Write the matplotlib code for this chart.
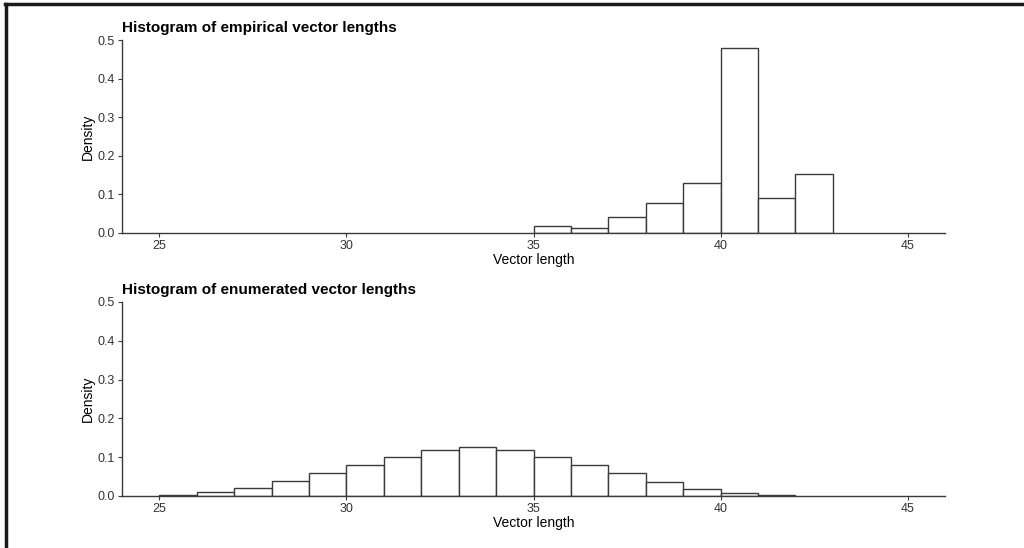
import matplotlib.pyplot as plt
from matplotlib.lines import Line2D

plt.rcParams['font.family'] = ['Liberation Sans', 'DejaVu Sans']

# empirical histogram (bins of width 1)
emp_left = [35, 36, 37, 38, 39, 40, 41, 42]
emp_density = [0.018, 0.013, 0.040, 0.078, 0.130, 0.480, 0.091, 0.152]

# enumerated histogram
enum_left = [25, 26, 27, 28, 29, 30, 31, 32, 33, 34, 35, 36, 37, 38, 39, 40, 41]
enum_density = [0.003, 0.009, 0.021, 0.038, 0.059, 0.079, 0.100, 0.119, 0.126,
                0.119, 0.100, 0.080, 0.058, 0.036, 0.018, 0.007, 0.002]

x_ticks = [25, 30, 35, 40, 45]
y_ticks = [0.0, 0.1, 0.2, 0.3, 0.4, 0.5]

fig = plt.figure(figsize=(10.24, 5.48), dpi=100)
ax1 = fig.add_axes([0.119, 0.575, 0.804, 0.352])
ax2 = fig.add_axes([0.119, 0.095, 0.804, 0.354])

line_col = '#3a3a3a'
tick_col = '#333333'

def style(ax, left, dens, title):
    ax.bar(left, dens, width=1, align='edge', facecolor='white',
           edgecolor=line_col, linewidth=1.0)
    ax.set_xlim(24, 46)
    ax.set_ylim(0, 0.5)
    ax.set_xticks(x_ticks)
    ax.set_yticks(y_ticks)
    ax.set_yticklabels(['%.1f' % v for v in y_ticks])
    for s in ['top', 'right']:
        ax.spines[s].set_visible(False)
    for s in ['left', 'bottom']:
        ax.spines[s].set_color(line_col)
        ax.spines[s].set_linewidth(1.0)
    ax.tick_params(colors=line_col, labelcolor=tick_col, labelsize=9,
                   length=3, width=0.8, pad=2)
    ax.set_xlabel('Vector length', fontsize=10, color='black', labelpad=1)
    ax.set_ylabel('Density', fontsize=10, color='black', labelpad=2)
    ax.set_title(title, loc='left', fontsize=11, fontweight='bold', pad=6)

style(ax1, emp_left, emp_density, 'Histogram of empirical vector lengths')
style(ax2, enum_left, enum_density, 'Histogram of enumerated vector lengths')

# frame lines on the left and top of the picture
fig.add_artist(Line2D([0.0055, 0.0055], [0, 0.992], color='#1a1a1a', lw=2.5,
                      transform=fig.transFigure))
fig.add_artist(Line2D([0.0045, 1.0], [0.992, 0.992], color='#1a1a1a', lw=2.5,
                      transform=fig.transFigure))

fig.savefig('out.png', dpi=100)
